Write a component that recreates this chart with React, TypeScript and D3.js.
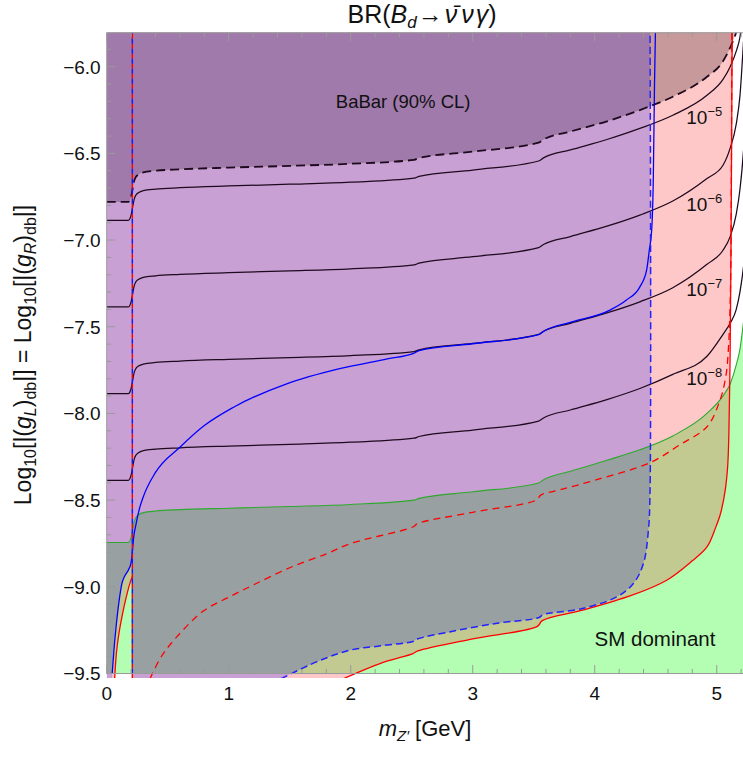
import React from 'react';
import * as d3 from 'd3';

// ---------- data ----------
const xTickValues = [0, 1, 2, 3, 4, 5];
const yTickValues = [-6.0, -6.5, -7.0, -7.5, -8.0, -8.5, -9.0, -9.5];

// common abscissa of the contour family
const famX = [0, 0.177, 0.2, 0.215, 0.225, 0.24, 0.26, 0.3, 0.4, 0.6, 1.0, 1.5, 2.0, 2.52, 2.56, 3.0, 3.54, 3.58, 3.8, 4.1, 4.37, 4.64, 4.92, 5.05, 5.11, 5.16, 5.19, 5.22, 5.25];
const babarY = [-6.78, -6.78, -6.75, -6.695, -6.66, -6.635, -6.622, -6.609, -6.6, -6.592, -6.582, -6.572, -6.56, -6.537, -6.527, -6.49, -6.438, -6.42, -6.374, -6.315, -6.25, -6.173, -6.058, -5.97, -5.89, -5.8, -5.72, -5.6, -5.45];
const level5Y = [-6.886, -6.886, -6.856, -6.8, -6.765, -6.74, -6.727, -6.715, -6.706, -6.698, -6.688, -6.678, -6.666, -6.643, -6.633, -6.596, -6.544, -6.526, -6.48, -6.42, -6.356, -6.28, -6.165, -6.075, -6.0, -5.91, -5.83, -5.65, -5.45];
const level6Y = [-7.386, -7.386, -7.356, -7.3, -7.265, -7.24, -7.227, -7.215, -7.206, -7.198, -7.188, -7.178, -7.166, -7.143, -7.133, -7.096, -7.044, -7.026, -6.98, -6.92, -6.856, -6.775, -6.645, -6.57, -6.47, -6.33, -6.17, -5.85, -5.5];
const level7Y = [-7.886, -7.886, -7.856, -7.8, -7.765, -7.74, -7.727, -7.715, -7.706, -7.698, -7.688, -7.678, -7.666, -7.643, -7.633, -7.596, -7.544, -7.526, -7.48, -7.42, -7.356, -7.275, -7.14, -7.06, -6.98, -6.85, -6.71, -6.48, -6.1];
const level8Y = [-8.386, -8.386, -8.356, -8.3, -8.265, -8.24, -8.227, -8.215, -8.206, -8.198, -8.188, -8.178, -8.166, -8.143, -8.133, -8.096, -8.044, -8.026, -7.98, -7.92, -7.856, -7.775, -7.67, -7.545, -7.48, -7.4, -7.3, -7.15, -6.9];
const greenY = [-8.744, -8.744, -8.715, -8.66, -8.625, -8.6, -8.585, -8.572, -8.563, -8.555, -8.547, -8.537, -8.525, -8.5, -8.49, -8.452, -8.401, -8.383, -8.334, -8.27, -8.21, -8.13, -8.0, -7.9, -7.83, -7.72, -7.63, -7.47, -7.3];

const blueSolidX = [0.045, 0.06, 0.08, 0.1, 0.125, 0.15, 0.18, 0.2, 0.21, 0.22, 0.24, 0.27, 0.3, 0.4, 0.6, 0.8, 1.04, 1.475, 1.91, 2.3, 2.52, 2.56, 3.0, 3.54, 3.58, 3.8, 4.125, 4.26, 4.37, 4.426, 4.447, 4.467, 4.48, 4.49, 4.5];
const blueSolidY = [-9.5, -9.36, -9.21, -9.09, -8.98, -8.935, -8.9, -8.86, -8.8, -8.72, -8.64, -8.545, -8.48, -8.34, -8.195, -8.07, -7.964, -7.829, -7.742, -7.685, -7.652, -7.638, -7.598, -7.546, -7.527, -7.475, -7.404, -7.346, -7.27, -7.17, -7.06, -6.94, -6.65, -6.1, -5.7];

const blueDashedX = [1.43, 1.72, 1.99, 2.25, 2.51, 2.55, 2.81, 3.2, 3.54, 3.58, 3.9, 4.18, 4.317, 4.399, 4.44, 4.453, 4.453];
const blueDashedY = [-9.53, -9.433, -9.366, -9.34, -9.315, -9.3, -9.26, -9.21, -9.178, -9.16, -9.125, -9.058, -8.981, -8.866, -8.673, -8.46, -5.7];

const redSolidLeftX = [0.065, 0.08, 0.1, 0.123, 0.15, 0.19, 0.21];
const redSolidLeftY = [-9.53, -9.38, -9.27, -9.18, -9.09, -8.98, -8.94];
const redSolidX = [1.94, 2.25, 2.51, 2.55, 3.0, 3.53, 3.57, 3.9, 4.3, 4.59, 4.8, 4.92, 4.99, 5.03, 5.068, 5.09, 5.1, 5.11, 5.117, 5.123, 5.128];
const redSolidY = [-9.53, -9.44, -9.385, -9.37, -9.3, -9.228, -9.195, -9.135, -9.05, -8.962, -8.85, -8.77, -8.66, -8.58, -8.45, -8.3, -8.1, -7.64, -7.06, -6.3, -5.7];

const redDashedX = [0.355, 0.45, 0.574, 0.792, 1.0, 1.2, 1.5, 1.8, 2.0, 2.51, 2.55, 3.0, 3.52, 3.56, 3.72, 4.0, 4.45, 4.7, 4.92, 5.027, 5.074, 5.095, 5.112, 5.12, 5.124];
const redDashedY = [-9.53, -9.4, -9.289, -9.14, -9.06, -8.99, -8.89, -8.81, -8.75, -8.655, -8.635, -8.57, -8.5, -8.47, -8.44, -8.385, -8.285, -8.18, -8.077, -7.923, -7.789, -7.635, -7.3, -6.6, -5.7];

const thresholdX = 0.21; // vertical dashed line (red/blue)
const contourExponents = ['−5', '−6', '−7', '−8'];
const contourLabelY = [-6.33, -6.835, -7.325, -7.835];
const contourLabelX = 4.75;

// ---------- layout ----------
const W = 743;
const H = 759;
const xMin = 0, xMax = 5.28;
const yBottom = -9.5, yTop = -5.804;
const x = d3.scaleLinear().domain([xMin, xMax]).range([106.7, 750.9]);
const y = d3.scaleLinear().domain([-9.5, -6.0]).range([673.5, 66.7]);
const extLow = -9.53;
const extHigh = -5.4;

const FONT = "'Liberation Sans', Arial, sans-serif";

const C = {
  pink: '#FFC8C8',
  lightPurple: '#C9A0D3',
  green: '#B3FEB3',
  olive: '#C2CA92',
  gray: '#98A0A1',
  babarPurple: '#A07AAB',
  babarPink: '#C8999A',
  babarWhite: '#D2C4C8',
};

type P = [number, number];
const pts = (xs: number[], ys: number[]): P[] => xs.map((v, i) => [v, ys[i]] as P);
const Lp = (list: P[]) => list.map(d => `L${x(d[0])},${y(d[1])}`).join('');

export default function App() {
  const mono = d3.line<P>().x(d => x(d[0])).y(d => y(d[1])).curve(d3.curveMonotoneX);
  const cr = d3.line<P>().x(d => x(d[0])).y(d => y(d[1])).curve(d3.curveCatmullRom.alpha(0.5));
  const cont = (s: string) => 'L' + s.slice(1);

  const babarPts = pts(famX, babarY);
  const greenPts = pts(famX, greenY);
  const blueSolidPts = pts(blueSolidX, blueSolidY);
  const blueLeft = blueSolidPts.filter(d => d[0] <= thresholdX + 1e-9);
  const blueDashedPts = pts(blueDashedX, blueDashedY);
  const redLeftPts = pts(redSolidLeftX, redSolidLeftY);
  const redPts = pts(redSolidX, redSolidY);
  const redDashedPts = pts(redDashedX, redDashedY);

  // region paths
  const purplePath =
    `M${x(0)},${y(extHigh)}` + Lp([[0, extLow], [blueLeft[0][0], extLow]]) +
    cont(cr(blueLeft)!) +
    Lp([[thresholdX, blueLeft[blueLeft.length - 1][1]], [thresholdX, extLow]]) +
    cont(cr(blueDashedPts)!) +
    Lp([[blueDashedX[blueDashedX.length - 1], extHigh]]) + 'Z';
  const pinkPath =
    `M${x(0)},${y(extHigh)}` + Lp([[0, extLow], [redSolidLeftX[0], extLow]]) +
    cont(cr(redLeftPts)!) +
    Lp([[thresholdX, extLow]]) +
    cont(cr(redPts)!) +
    Lp([[redSolidX[redSolidX.length - 1], extHigh]]) + 'Z';
  const greenPath =
    mono(greenPts)! +
    Lp([[xMax + 0.1, greenY[greenY.length - 1]], [xMax + 0.1, yBottom], [0, yBottom]]) + 'Z';
  const babarPath =
    mono(babarPts)! + Lp([[xMax + 0.1, extHigh], [0, extHigh]]) + 'Z';

  const xMinor = d3.range(0, 5.3, 0.2);
  const yMinor = d3.range(-9.5, -5.8, 0.1);
  const left = x(0), right = x(xMax), top = y(yTop), bottom = y(yBottom);

  const isMajor = (v: number, step: number) => Math.abs(v / step - Math.round(v / step)) < 1e-6;

  return (
    <svg width={W} height={H} style={{ position: 'absolute', left: 0, top: 0, background: '#fff' }} fontFamily={FONT}>
      <defs>
        <clipPath id="plot"><rect x={left} y={top} width={right - left} height={678 - top} /></clipPath>
        <clipPath id="gclip"><path d={greenPath} /></clipPath>
        <clipPath id="bclip"><path d={babarPath} /></clipPath>
      </defs>

      <g clipPath="url(#plot)">
        <path d={pinkPath} fill={C.pink} />
        <path d={purplePath} fill={C.lightPurple} />
        <path d={greenPath} fill={C.green} />
        <g clipPath="url(#gclip)">
          <path d={pinkPath} fill={C.olive} />
          <path d={purplePath} fill={C.gray} />
        </g>
        <path d={babarPath} fill={C.babarWhite} />
        <g clipPath="url(#bclip)">
          <path d={pinkPath} fill={C.babarPink} />
          <path d={purplePath} fill={C.babarPurple} />
        </g>

        {/* boundary lines */}
        <path d={mono(greenPts)!} fill="none" stroke="#2FA82F" strokeWidth={1.1} />
        {[level5Y, level6Y, level7Y, level8Y].map((ys, i) => (
          <path key={i} d={mono(pts(famX, ys))!} fill="none" stroke="#1E0A1E" strokeWidth={1.25} />
        ))}
        <path d={mono(babarPts)!} fill="none" stroke="#1E0A1E" strokeWidth={1.8} strokeDasharray="9,5" />
        <path d={mono(blueSolidPts)!} fill="none" stroke="#0000FF" strokeWidth={1.3} />
        <path d={cr(redLeftPts)!} fill="none" stroke="#FF0000" strokeWidth={1.3} />
        <path d={cr(redPts)!} fill="none" stroke="#FF0000" strokeWidth={1.3} />
        <path d={cr(redDashedPts)!} fill="none" stroke="#FF0000" strokeWidth={1.3} strokeDasharray="7,5" />
        <path d={cr(blueDashedPts)!} fill="none" stroke="#2222FF" strokeWidth={1.5} strokeDasharray="7,4" />
        <line x1={x(thresholdX)} x2={x(thresholdX)} y1={y(extLow)} y2={top} stroke="#FF0000" strokeWidth={1.5} strokeDasharray="5,5" />
        <line x1={x(thresholdX)} x2={x(thresholdX)} y1={y(extLow)} y2={top} stroke="#1515FF" strokeWidth={1.5} strokeDasharray="5,5" strokeDashoffset={5} />
      </g>

      {/* text inside plot */}
      <text x={x(2.43)} y={y(-6.238)} fontSize={18.5} textAnchor="middle" fill="#111">BaBar (90% CL)</text>
      <text x={x(4.494)} y={y(-9.34)} fontSize={20.5} textAnchor="middle" fill="#111">SM dominant</text>
      {contourExponents.map((e, i) => (
        <text key={e} x={x(contourLabelX)} y={y(contourLabelY[i])} fontSize={19} fill="#111">
          10<tspan fontSize={13} dy={-8}>{e}</tspan>
        </text>
      ))}

      {/* frame */}
      <g stroke="#9A9A9A" strokeWidth={1} fill="none">
        <line x1={left} x2={left} y1={top} y2={bottom} />
        <line x1={left} x2={right} y1={top} y2={top} />
        <line x1={left} x2={right} y1={bottom} y2={bottom} />
      </g>
      <g stroke="#9A9A9A" strokeWidth={1}>
        {xMinor.map(v => {
          const L = isMajor(v, 1) ? 8.5 : 4.5;
          return (
            <g key={'xt' + v}>
              <line x1={x(v)} x2={x(v)} y1={bottom} y2={bottom - L} />
              <line x1={x(v)} x2={x(v)} y1={top} y2={top + L} />
            </g>
          );
        })}
        {yMinor.map(v => {
          const L = isMajor(v, 0.5) ? 8.5 : 4.5;
          return <line key={'yt' + v} x1={left} x2={left + L} y1={y(v)} y2={y(v)} />;
        })}
      </g>

      {/* tick labels */}
      {xTickValues.map(v => (
        <text key={'xl' + v} x={x(v)} y={700} fontSize={19} textAnchor="middle" fill="#111">{String(v)}</text>
      ))}
      {yTickValues.map(v => (
        <text key={'yl' + v} x={left - 6} y={y(v) + 6.8} fontSize={19} textAnchor="end" fill="#111">
          {'−' + Math.abs(v).toFixed(1)}
        </text>
      ))}

      {/* title */}
      <text x={422} y={23} fontSize={25} textAnchor="middle" fill="#111">
        BR(<tspan fontStyle="italic">B</tspan><tspan fontStyle="italic" fontSize={17} dy={5}>d</tspan><tspan dy={-5} dx={1}>→</tspan><tspan fontStyle="italic" dx={2}>{'\u03BD\u0304'}</tspan><tspan fontStyle="italic" dx={4}>ν</tspan><tspan fontStyle="italic" dx={2}>γ</tspan>)
      </text>

      {/* x label */}
      <text x={425} y={736} fontSize={22} textAnchor="middle" fill="#111">
        <tspan fontStyle="italic">m</tspan><tspan fontStyle="italic" fontSize={15} dy={5}>Z′</tspan><tspan dy={-5}> [GeV]</tspan>
      </text>

      {/* y label */}
      <text transform="translate(31,355) rotate(-90)" fontSize={23} textAnchor="middle" fill="#111">
        Log<tspan fontSize={16} dy={5}>10</tspan><tspan dy={-5}>[|(</tspan><tspan fontStyle="italic">g</tspan><tspan fontStyle="italic" fontSize={16} dy={5}>L</tspan><tspan dy={-5}>)</tspan><tspan fontSize={16} dy={5}>db</tspan><tspan dy={-5}>|] = Log</tspan><tspan fontSize={16} dy={5}>10</tspan><tspan dy={-5}>[|(</tspan><tspan fontStyle="italic">g</tspan><tspan fontStyle="italic" fontSize={16} dy={5}>R</tspan><tspan dy={-5}>)</tspan><tspan fontSize={16} dy={5}>db</tspan><tspan dy={-5}>|]</tspan>
      </text>
    </svg>
  );
}
